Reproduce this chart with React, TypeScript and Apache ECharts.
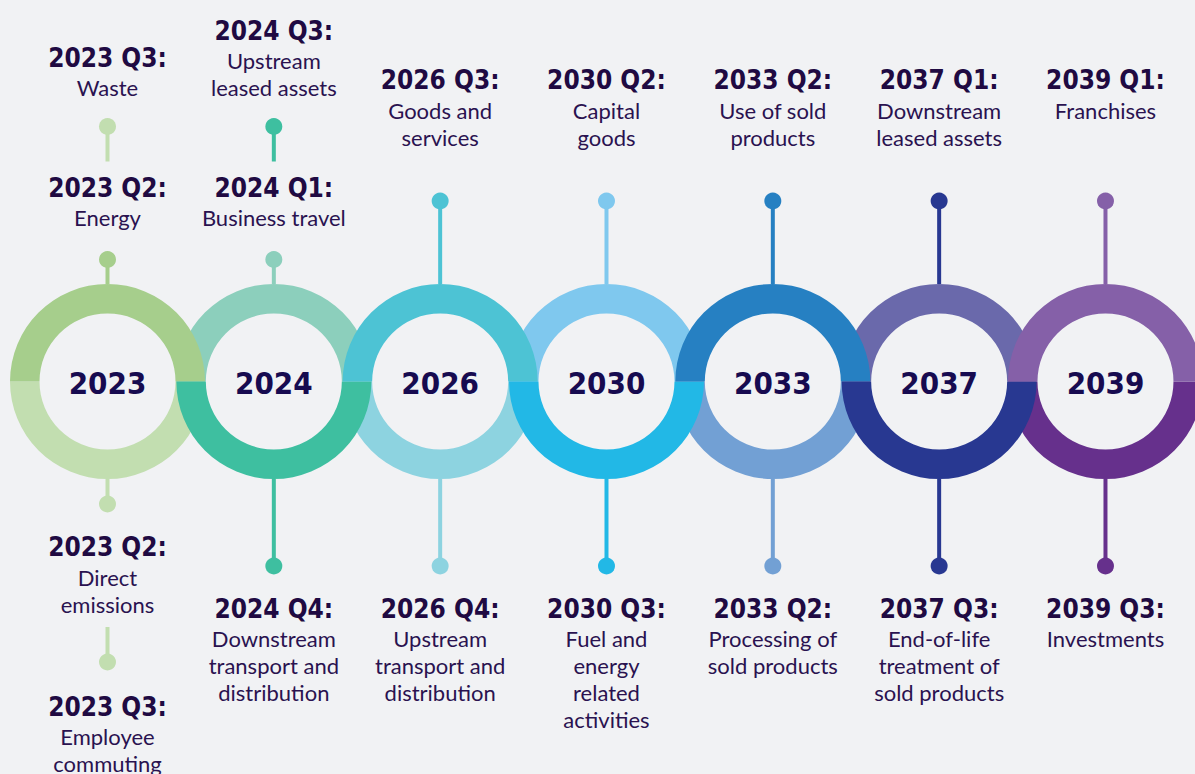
import React, { useEffect, useRef } from 'react';
import * as echarts from 'echarts';

// ---------------- data ----------------
const YEARS = ['2023', '2024', '2026', '2030', '2033', '2037', '2039'];
const TOP_COLORS = ['#A6CE8C', '#8CCFBC', '#4DC3D4', '#7FC8EE', '#2680C2', '#6A69AB', '#8560A8'];
const BOTTOM_COLORS = ['#C2DEB0', '#3EBFA0', '#8DD3E0', '#22B8E6', '#72A0D4', '#283891', '#66308C'];

const MS_RING = [0, 0, 0, 0, 1, 1, 1, 2, 2, 3, 3, 4, 4, 5, 5, 6, 6];
const MS_SIDE = ['top', 'top', 'bottom', 'bottom', 'top', 'top', 'bottom', 'top', 'bottom', 'top', 'bottom', 'top', 'bottom', 'top', 'bottom', 'top', 'bottom'];
const MS_TIER = [1, 2, 1, 2, 1, 2, 1, 1, 1, 1, 1, 1, 1, 1, 1, 1, 1];
const MS_QUARTER = [
  '2023 Q2:', '2023 Q3:', '2023 Q2:', '2023 Q3:',
  '2024 Q1:', '2024 Q3:', '2024 Q4:',
  '2026 Q3:', '2026 Q4:',
  '2030 Q2:', '2030 Q3:',
  '2033 Q2:', '2033 Q2:',
  '2037 Q1:', '2037 Q3:',
  '2039 Q1:', '2039 Q3:',
];
const MS_LINES = [
  ['Energy'], ['Waste'], ['Direct', 'emissions'], ['Employee', 'commuting'],
  ['Business travel'], ['Upstream', 'leased assets'], ['Downstream', 'transport and', 'distribution'],
  ['Goods and', 'services'], ['Upstream', 'transport and', 'distribution'],
  ['Capital', 'goods'], ['Fuel and', 'energy', 'related', 'activities'],
  ['Use of sold', 'products'], ['Processing of', 'sold products'],
  ['Downstream', 'leased assets'], ['End-of-life', 'treatment of', 'sold products'],
  ['Franchises'], ['Investments'],
];
const MS_COLOR = [
  '#A6CE8C', '#C2DEB0', '#C2DEB0', '#C2DEB0',
  '#8CCFBC', '#3EBFA0', '#3EBFA0',
  '#4DC3D4', '#8DD3E0',
  '#7FC8EE', '#22B8E6',
  '#2680C2', '#72A0D4',
  '#283891', '#283891',
  '#8560A8', '#66308C',
];

// ---------------- layout / style ----------------
const W = 1195;
const H = 774;
const FIRST_X = 107.5;
const STEP_X = 166.33;
const RING_CY = 381.5;
const R_OUT = 97.5;
const R_IN = 68;
const LINE_H = 27;
const BG = '#F1F2F4';
const HEAD_COLOR = '#200A42';
const BODY_COLOR = '#2A1250';
const YEAR_COLOR = '#170B50';
const HEAD_FONT = '"DejaVu Sans Condensed", "DejaVu Sans", sans-serif';
const BODY_FONT = 'Lato, "Open Sans", sans-serif';

function countOf(ring: number, side: string) {
  let c = 0;
  for (let k = 0; k < MS_RING.length; k++) if (MS_RING[k] === ring && MS_SIDE[k] === side) c++;
  return c;
}

function layout(k: number) {
  const ring = MS_RING[k];
  const side = MS_SIDE[k];
  const tier = MS_TIER[k];
  const n = MS_LINES[k].length;
  const cnt = countOf(ring, side);
  const ringTop = RING_CY - R_OUT;
  const ringBottom = RING_CY + R_OUT;
  let dotY = 0, s1 = 0, s2 = 0, headY = 0;
  let bodyYs: number[] = [];
  if (side === 'top') {
    if (cnt === 1) {
      dotY = 201; s1 = dotY; s2 = ringTop;
      headY = 80;
      for (let i = 0; i < n; i++) bodyYs.push(headY + 30 + i * LINE_H);
    } else {
      let last;
      if (tier === 1) { dotY = 259.5; s1 = dotY; s2 = ringTop; last = dotY - 42.5; }
      else { dotY = 126.5; s1 = dotY; s2 = dotY + 35; last = 87; }
      for (let i = 0; i < n; i++) bodyYs.push(last - (n - 1 - i) * LINE_H);
      headY = bodyYs[0] - 29.5;
    }
  } else {
    if (cnt === 1) { dotY = 566; s1 = ringBottom; s2 = dotY; headY = dotY + 42.5; }
    else if (tier === 1) { dotY = 504; s1 = ringBottom; s2 = dotY; headY = dotY + 43; }
    else { dotY = 662; s1 = dotY - 35; s2 = dotY; headY = dotY + 44.5; }
    for (let i = 0; i < n; i++) bodyYs.push(headY + 30 + i * LINE_H);
  }
  return { dotY, s1, s2, headY, bodyYs };
}

function textStyle(text: string, font: string, size: number, weight: any, fill: string) {
  return {
    text,
    fontFamily: font,
    fontSize: size,
    fontWeight: weight,
    fill,
    align: 'center',
    verticalAlign: 'middle',
    textAlign: 'center',
    textVerticalAlign: 'middle',
  };
}

export default function App() {
  const ref = useRef<HTMLDivElement>(null);
  useEffect(() => {
    if (!ref.current) return;
    const chart = echarts.init(ref.current, null, { renderer: 'svg' });

    // weave: even rings -> top half over, odd rings -> bottom half over
    const lowHalves: number[][] = [];
    const highHalves: number[][] = [];
    YEARS.forEach((_, i) => {
      if (i % 2 === 0) { highHalves.push([i, 0]); lowHalves.push([i, 1]); }
      else { lowHalves.push([i, 0]); highHalves.push([i, 1]); }
    });

    const ringRender = (params: any, api: any) => {
      const i = api.value(0);
      const half = api.value(1);
      const [cx, cy] = api.coord([i, RING_CY]);
      return {
        type: 'sector',
        shape: {
          cx, cy, r: R_OUT, r0: R_IN,
          startAngle: half === 0 ? Math.PI : 0,
          endAngle: half === 0 ? Math.PI * 2 : Math.PI,
          clockwise: true,
        },
        style: { fill: half === 0 ? TOP_COLORS[i] : BOTTOM_COLORS[i] },
      };
    };

    const msData = MS_RING.map((r, k) => [r, k]);

    const option: any = {
      animation: false,
      backgroundColor: BG,
      grid: { left: 0, right: 0, top: 0, bottom: 0 },
      xAxis: {
        type: 'value',
        min: -FIRST_X / STEP_X,
        max: (W - FIRST_X) / STEP_X,
        show: false,
      },
      yAxis: { type: 'value', min: 0, max: H, inverse: true, show: false },
      series: [
        {
          type: 'custom',
          name: 'stems',
          z: 1,
          data: msData,
          renderItem: (params: any, api: any) => {
            const k = api.value(1);
            const ring = api.value(0);
            const L = layout(k);
            const [x, y1] = api.coord([ring, L.s1]);
            const [, y2] = api.coord([ring, L.s2]);
            const [, dy] = api.coord([ring, L.dotY]);
            return {
              type: 'group',
              children: [
                { type: 'line', shape: { x1: x, y1, x2: x, y2 }, style: { stroke: MS_COLOR[k], lineWidth: 4 } },
                { type: 'circle', shape: { cx: x, cy: dy, r: 8.5 }, style: { fill: MS_COLOR[k] } },
              ],
            };
          },
        },
        { type: 'custom', name: 'rings-under', z: 2, data: lowHalves, renderItem: ringRender },
        { type: 'custom', name: 'rings-over', z: 3, data: highHalves, renderItem: ringRender },
        {
          type: 'custom',
          name: 'years',
          z: 4,
          data: YEARS.map((y, i) => [i]),
          renderItem: (params: any, api: any) => {
            const i = api.value(0);
            const [cx, cy] = api.coord([i, RING_CY]);
            return {
              type: 'text',
              x: cx,
              y: cy + 1,
              style: textStyle(YEARS[i], HEAD_FONT, 31, 'bold', YEAR_COLOR),
            };
          },
        },
        {
          type: 'custom',
          name: 'labels',
          z: 4,
          data: msData,
          renderItem: (params: any, api: any) => {
            const k = api.value(1);
            const ring = api.value(0);
            const L = layout(k);
            const [x, hy] = api.coord([ring, L.headY]);
            const children: any[] = [
              { type: 'text', x, y: hy, style: textStyle(MS_QUARTER[k], HEAD_FONT, 26, 'bold', HEAD_COLOR) },
            ];
            MS_LINES[k].forEach((line, i) => {
              const [, by] = api.coord([ring, L.bodyYs[i]]);
              children.push({ type: 'text', x, y: by, style: textStyle(line, BODY_FONT, 22, 'normal', BODY_COLOR) });
            });
            return { type: 'group', children };
          },
        },
      ],
    };
    chart.setOption(option);
    return () => chart.dispose();
  }, []);

  return (
    <div
      ref={ref}
      style={{ position: 'absolute', left: 0, top: 0, width: W, height: H, background: BG }}
    />
  );
}
